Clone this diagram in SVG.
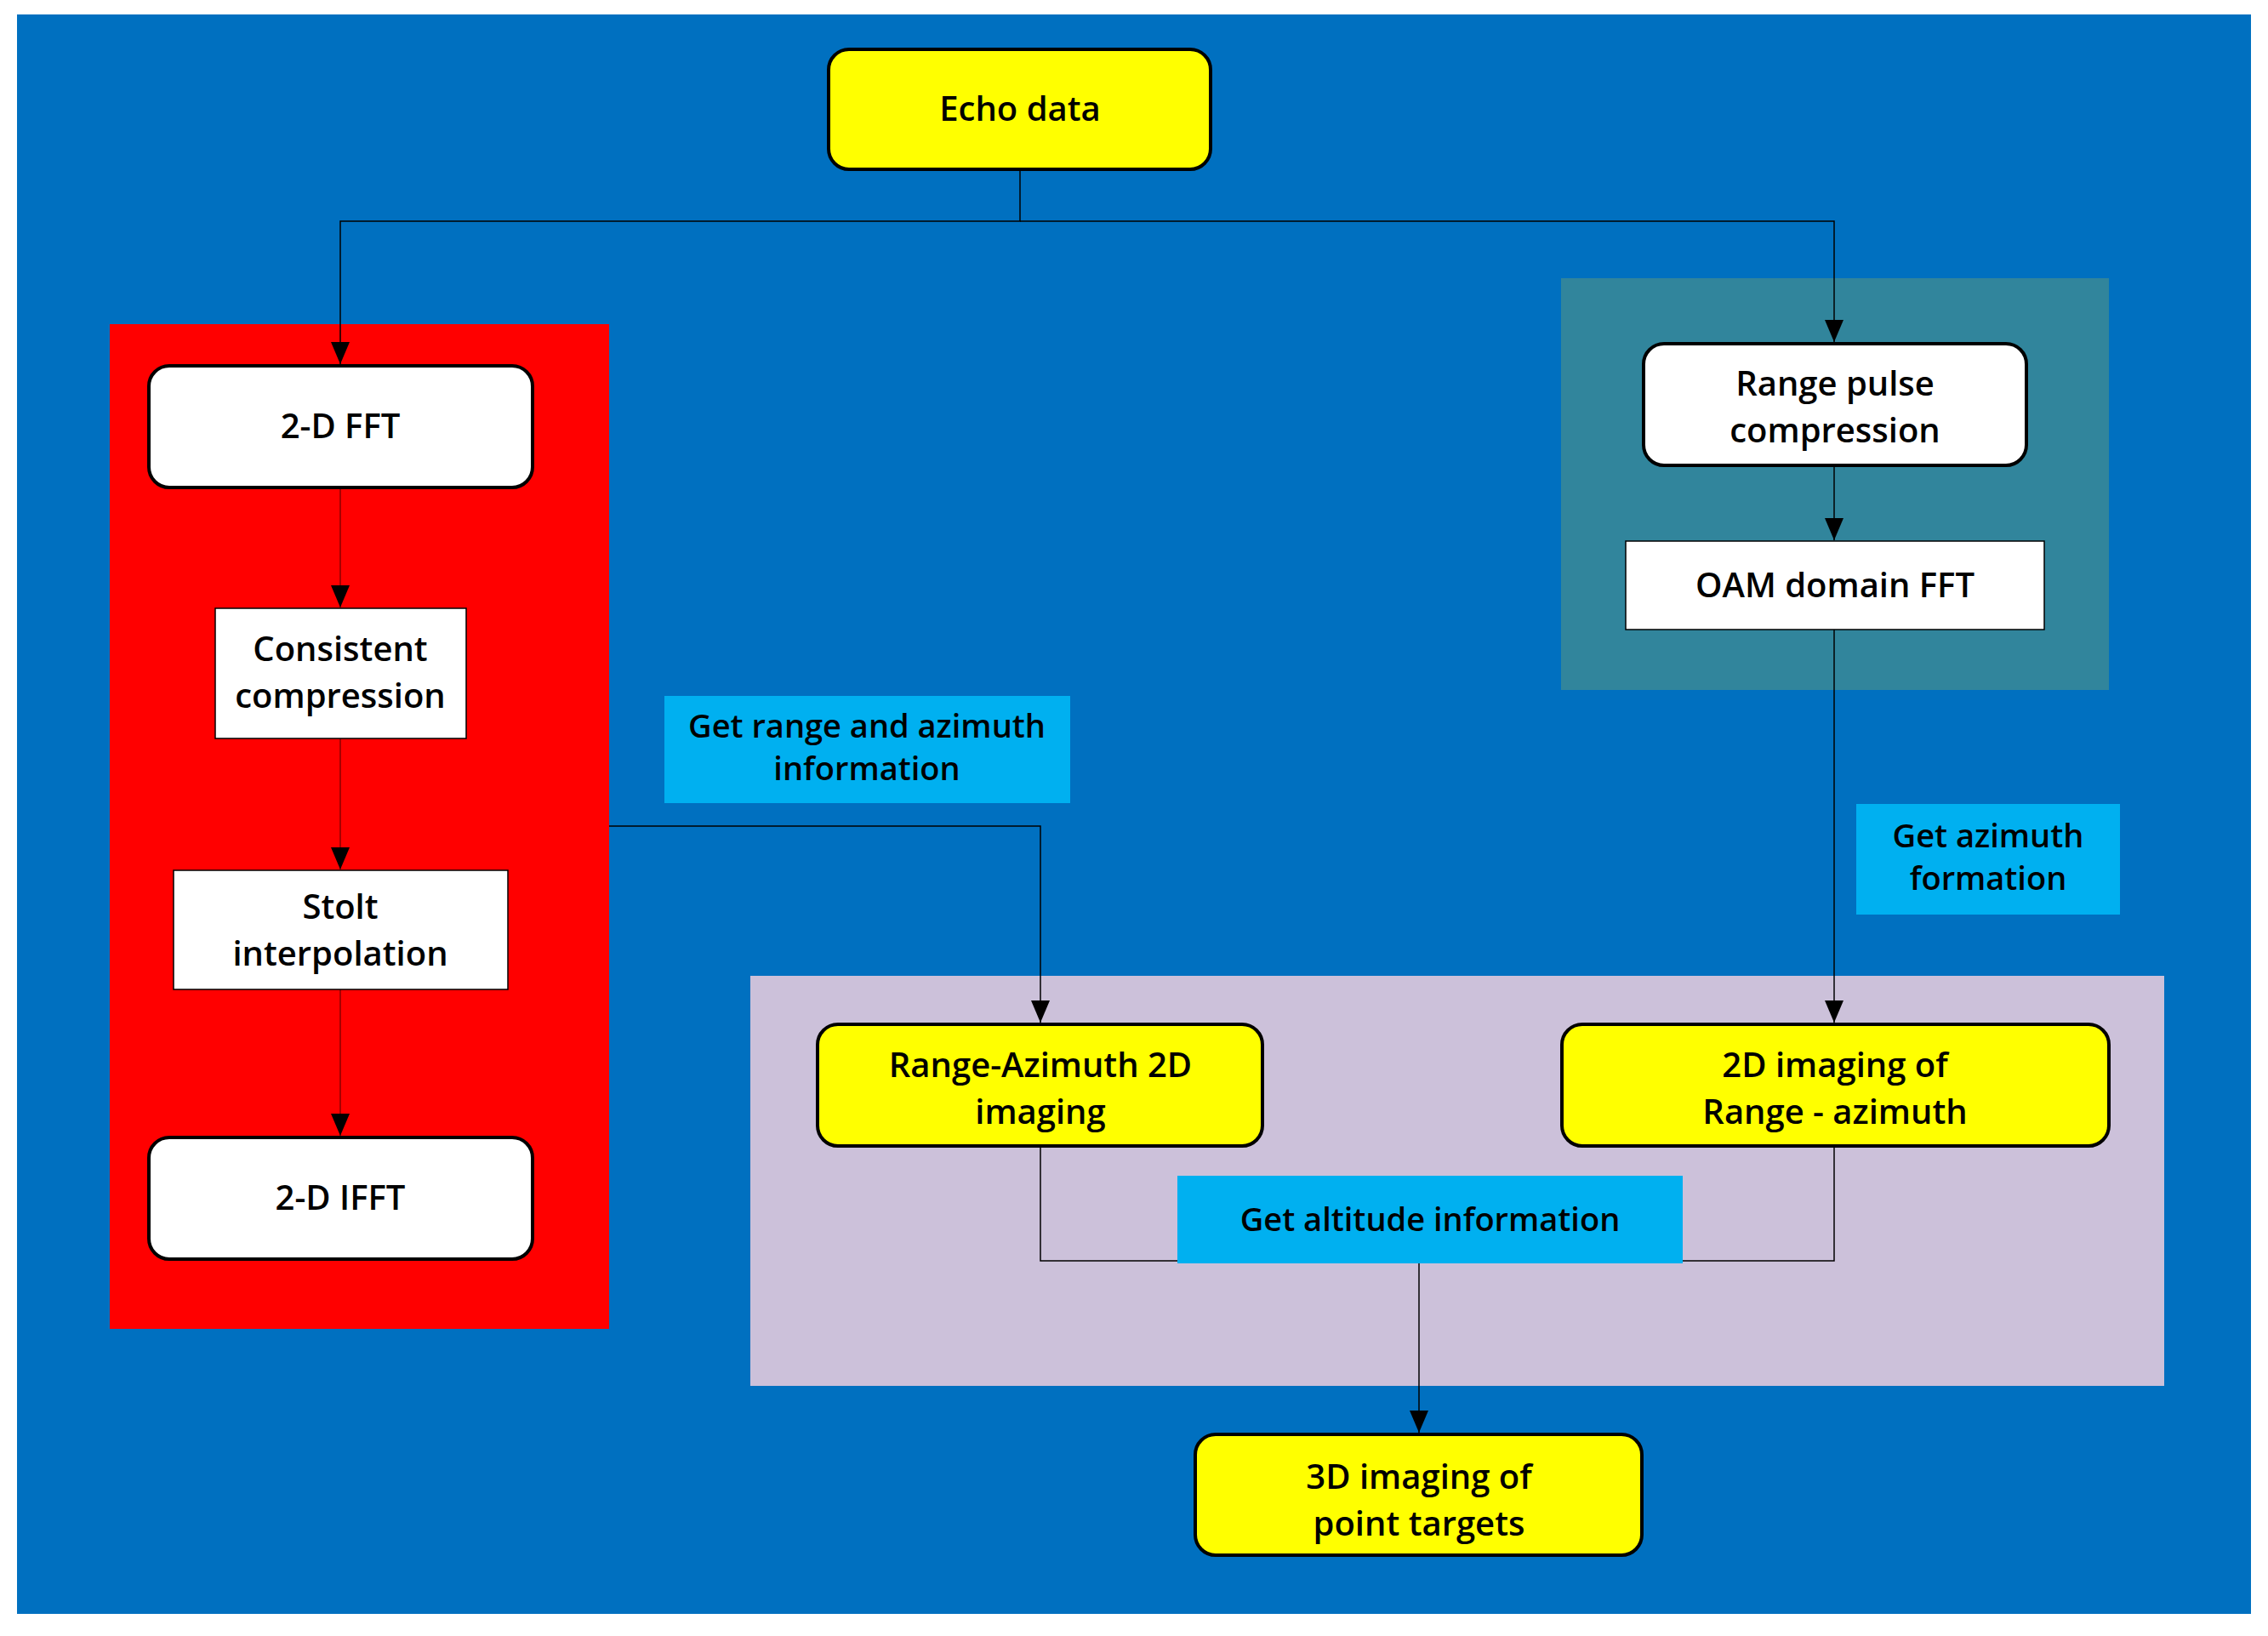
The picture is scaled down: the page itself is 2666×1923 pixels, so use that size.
<svg xmlns="http://www.w3.org/2000/svg" width="2666" height="1923" viewBox="0 0 2666 1923">
<style>
text{font-family:"Open Sans","Noto Sans",sans-serif;font-size:40px;font-weight:600;fill:#000;text-anchor:middle}
.lb{font-size:38px}
.rb{stroke:#000;stroke-width:4}
.sq{stroke:#000;stroke-width:1.5}
.ln{fill:none;stroke:#000;stroke-width:1.5}
.lr{fill:none;stroke:#8b0000;stroke-width:1.5}
</style>
<defs>
<marker id="ah" viewBox="0 0 26 22" refX="26" refY="11" markerWidth="26" markerHeight="22" markerUnits="userSpaceOnUse" orient="auto">
<path d="M0,0 L26,11 L0,22 Z" fill="#000"/>
</marker>
</defs>
<rect x="0" y="0" width="2666" height="1923" fill="#fff"/>
<rect x="20" y="17" width="2626" height="1880" fill="#0070C0"/>
<rect x="129" y="381" width="587" height="1181" fill="#FF0000"/>
<rect x="1835" y="327" width="644" height="484" fill="#31859C"/>
<rect x="882" y="1147" width="1662" height="482" fill="#CCC1DA"/>
<g id="connectors">
<path class="ln" d="M1199,199 V260 H400 V428" marker-end="url(#ah)"/>
<path class="ln" d="M1199,260 H2156 V402" marker-end="url(#ah)"/>
<path class="lr" d="M400,575 V714" marker-end="url(#ah)"/>
<path class="lr" d="M400,868 V1022" marker-end="url(#ah)"/>
<path class="lr" d="M400,1163 V1335" marker-end="url(#ah)"/>
<path class="ln" d="M716,971 H1223 V1202" marker-end="url(#ah)"/>
<path class="ln" d="M2156,549 V635" marker-end="url(#ah)"/>
<path class="ln" d="M2156,740 V1202" marker-end="url(#ah)"/>
<path class="ln" d="M1223,1349 V1482 H2156 V1349"/>
<path class="ln" d="M1668,1482 V1684" marker-end="url(#ah)"/>
</g>
<g id="echo"><rect class="rb" x="974" y="58" width="449" height="141" rx="24" fill="#FFFF00"/><text x="1199" y="142">Echo data</text></g>
<g id="fft"><rect class="rb" x="175" y="430" width="451" height="143" rx="24" fill="#fff"/><text x="400" y="515">2-D FFT</text></g>
<g id="consistent"><rect class="sq" x="253" y="715" width="295" height="153" fill="#fff"/><text x="400" y="777">Consistent</text><text x="400" y="832">compression</text></g>
<g id="stolt"><rect class="sq" x="204" y="1023" width="393" height="140" fill="#fff"/><text x="400" y="1080">Stolt</text><text x="400" y="1135">interpolation</text></g>
<g id="ifft"><rect class="rb" x="175" y="1337" width="451" height="143" rx="24" fill="#fff"/><text x="400" y="1422">2-D IFFT</text></g>
<g id="label-range"><rect x="781" y="818" width="477" height="126" fill="#00B0F0"/><text class="lb" x="1019" y="867">Get range and azimuth</text><text class="lb" x="1019" y="917">information</text></g>
<g id="rangepulse"><rect class="rb" x="1932" y="404" width="450" height="143" rx="24" fill="#fff"/><text x="2157" y="465">Range pulse</text><text x="2157" y="520">compression</text></g>
<g id="oam"><rect class="sq" x="1911" y="636" width="492" height="104" fill="#fff"/><text x="2157" y="702">OAM domain FFT</text></g>
<g id="label-azimuth"><rect x="2182" y="945" width="310" height="130" fill="#00B0F0"/><text class="lb" x="2337" y="996">Get azimuth</text><text class="lb" x="2337" y="1046">formation</text></g>
<g id="rangeaz"><rect class="rb" x="961" y="1204" width="523" height="143" rx="24" fill="#FFFF00"/><text x="1223" y="1266">Range-Azimuth 2D</text><text x="1223" y="1321">imaging</text></g>
<g id="twod"><rect class="rb" x="1836" y="1204" width="643" height="143" rx="24" fill="#FFFF00"/><text x="2157" y="1266">2D imaging of</text><text x="2157" y="1321">Range - azimuth</text></g>
<g id="label-altitude"><rect x="1384" y="1382" width="594" height="103" fill="#00B0F0"/><text class="lb" x="1681" y="1447">Get altitude information</text></g>
<g id="threed"><rect class="rb" x="1405" y="1686" width="525" height="142" rx="24" fill="#FFFF00"/><text x="1668" y="1750">3D imaging of</text><text x="1668" y="1805">point targets</text></g>
</svg>
